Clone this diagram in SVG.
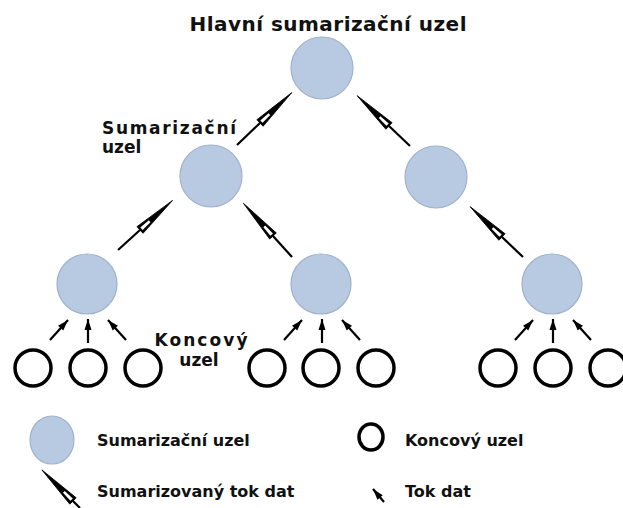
<svg xmlns="http://www.w3.org/2000/svg" width="623" height="508" viewBox="0 0 623 508">
<style>
.sum{fill:#b8cae2;stroke:#9fb2cc;stroke-width:1.2}
.leaf{fill:#fff;stroke:#000;stroke-width:3.5}
.t{font-family:"DejaVu Sans",Verdana,sans-serif;font-weight:bold;fill:#111}
.sl{stroke:#000;stroke-width:2.2;fill:none;marker-end:url(#sh)}
.dl{stroke:#000;stroke-width:2.2;fill:none;marker-end:url(#dh)}
</style>
<defs>
<marker id="sh" markerUnits="userSpaceOnUse" viewBox="-3 -7 52 14" refX="0" refY="0" markerWidth="52" markerHeight="14" orient="auto" overflow="visible">
<path d="M44,0 L0,-4.5 L0,4.5 Z" fill="#000" stroke="#000" stroke-width="0.8"/>
<path d="M2,-1.7 L13,-1.2 L13,1.2 L2,1.7 Z" fill="#fff"/>
</marker>
<marker id="dh" markerUnits="userSpaceOnUse" viewBox="-12 -5 14 10" refX="0" refY="0" markerWidth="14" markerHeight="10" orient="auto" overflow="visible">
<path d="M0,0 L-11,-3.5 L-11,3.5 Z" fill="#000"/>
</marker>
</defs>

<text class="t" x="328" y="31" font-size="20" text-anchor="middle" textLength="277" lengthAdjust="spacing">Hlavní sumarizační uzel</text>

<g id="connectors">
<line class="sl" x1="237" y1="145" x2="260" y2="123"/>
<line class="sl" x1="410" y1="146" x2="389" y2="126"/>
<line class="sl" x1="118" y1="250" x2="140" y2="230"/>
<line class="sl" x1="292" y1="257" x2="273" y2="236"/>
<line class="sl" x1="523" y1="257" x2="502" y2="237"/>

<line class="dl" x1="50" y1="340" x2="68" y2="320"/>
<line class="dl" x1="88" y1="343" x2="88" y2="319"/>
<line class="dl" x1="126" y1="340" x2="108" y2="320"/>
<line class="dl" x1="284" y1="340" x2="302" y2="320"/>
<line class="dl" x1="322" y1="343" x2="322" y2="319"/>
<line class="dl" x1="360" y1="340" x2="342" y2="320"/>
<line class="dl" x1="515" y1="340" x2="533" y2="320"/>
<line class="dl" x1="553" y1="343" x2="553" y2="319"/>
<line class="dl" x1="591" y1="340" x2="573" y2="320"/>
</g>

<g id="n-root"><circle class="sum" cx="322" cy="68" r="31"/></g>
<g id="n-s1"><circle class="sum" cx="211" cy="176" r="31"/>
<text class="t" font-size="17" x="102" y="134" textLength="134" lengthAdjust="spacing">Sumarizační</text>
<text class="t" font-size="17" x="102" y="153">uzel</text></g>
<g id="n-s2"><circle class="sum" cx="436" cy="177" r="31"/></g>
<g id="n-s3"><circle class="sum" cx="87" cy="284" r="30"/></g>
<g id="n-s4"><circle class="sum" cx="321" cy="284" r="30"/></g>
<g id="n-s5"><circle class="sum" cx="552" cy="284" r="30"/></g>

<g id="n-leaf-label">
<text class="t" font-size="17" x="201" y="346" text-anchor="middle" textLength="93" lengthAdjust="spacing">Koncový</text>
<text class="t" font-size="17" x="199" y="366" text-anchor="middle">uzel</text>
</g>
<g id="n-l1"><circle class="leaf" cx="33" cy="368" r="18"/></g>
<g id="n-l2"><circle class="leaf" cx="88" cy="368" r="18"/></g>
<g id="n-l3"><circle class="leaf" cx="143" cy="368" r="18"/></g>
<g id="n-l4"><circle class="leaf" cx="267" cy="368" r="18"/></g>
<g id="n-l5"><circle class="leaf" cx="321" cy="368" r="18"/></g>
<g id="n-l6"><circle class="leaf" cx="376" cy="368" r="18"/></g>
<g id="n-l7"><circle class="leaf" cx="498" cy="368" r="18"/></g>
<g id="n-l8"><circle class="leaf" cx="553" cy="368" r="18"/></g>
<g id="n-l9"><circle class="leaf" cx="608" cy="368" r="18"/></g>

<g id="legend">
<ellipse class="sum" cx="52" cy="440" rx="22" ry="24"/>
<text class="t" font-size="16" x="97" y="446">Sumarizační uzel</text>
<ellipse class="leaf" cx="371" cy="437" rx="12" ry="13" stroke-width="3"/>
<text class="t" font-size="16" x="405" y="446">Koncový uzel</text>
<line class="sl" x1="80" y1="508" x2="73" y2="501"/>
<line class="dl" x1="384" y1="502" x2="373" y2="489"/>
<text class="t" font-size="16" x="97" y="497">Sumarizovaný tok dat</text>
<text class="t" font-size="16" x="405" y="497">Tok dat</text>
</g>
</svg>
